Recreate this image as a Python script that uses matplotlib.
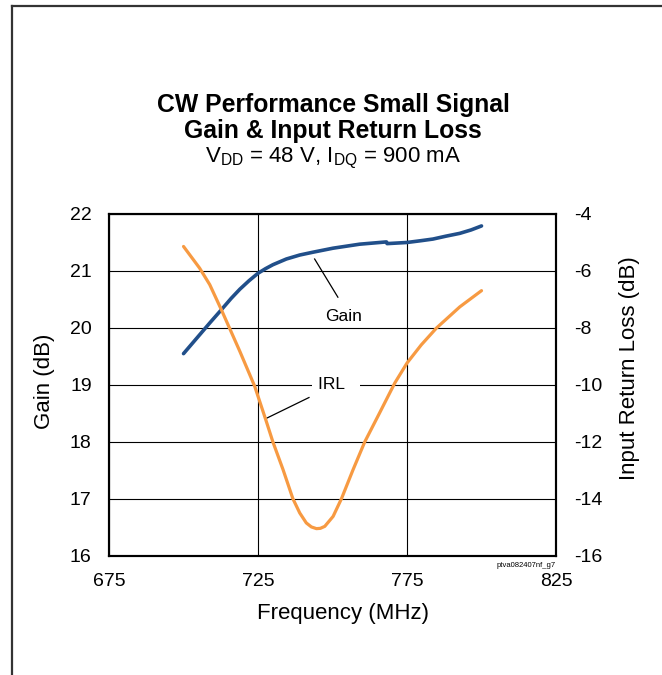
import matplotlib
matplotlib.use("Agg")
import matplotlib.pyplot as plt
from matplotlib.lines import Line2D

plt.rcParams['font.family'] = ['Liberation Sans', 'DejaVu Sans']
plt.rcParams['mathtext.fontset'] = 'custom'
plt.rcParams['mathtext.rm'] = 'Liberation Sans'
plt.rcParams['mathtext.it'] = 'Liberation Sans:italic'
plt.rcParams['mathtext.bf'] = 'Liberation Sans:bold'
plt.rcParams['axes.unicode_minus'] = False

# ---- data ----
gain_freq = [700, 705.4, 709, 712.7, 716, 718.9, 722, 725, 727.5, 730, 734.5, 739, 743.5,
             750.2, 759.1, 768.1, 768.3, 775, 779.5, 783.7, 788, 792.7, 796.5, 800]
gain_db = [19.55, 19.88, 20.10, 20.32, 20.52, 20.68, 20.83, 20.96, 21.04, 21.11, 21.21, 21.28, 21.33,
           21.40, 21.47, 21.51, 21.48, 21.50, 21.53, 21.56, 21.61, 21.66, 21.72, 21.79]

irl_freq = [700, 705.4, 708.8, 712.7, 718.9, 723.9, 727.6, 730, 733.4, 736.7, 739, 741.2,
            742.9, 744.6, 745.9, 747.4, 750.2, 753, 756.9, 760.8, 765.8, 770.9, 775,
            779.8, 784.9, 792.7, 800]
irl_db = [-5.14, -5.90, -6.48, -7.36, -8.82, -10.05, -11.22, -12.0, -12.97, -13.99, -14.49, -14.84,
          -14.98, -15.04, -15.03, -14.96, -14.61, -13.99, -12.97, -12.0, -10.98, -9.93, -9.23,
          -8.59, -8.0, -7.26, -6.69]

x_ticks = [675, 725, 775, 825]
gain_ticks = [16, 17, 18, 19, 20, 21, 22]
irl_ticks = [-16, -14, -12, -10, -8, -6, -4]

title_lines = ["CW Performance Small Signal", "Gain & Input Return Loss"]
subtitle = r"V$_{\mathrm{DD}}$ = 48 V, I$_{\mathrm{DQ}}$ = 900 mA"

# annotation anchors (gain-axis data units)
gain_label_pos = (753.7, 20.2)
gain_leader_x = [744.0, 751.8]
gain_leader_y = [21.21, 20.54]
irl_label_pos = (745.1, 19.0)
irl_leader_x = [742.1, 727.6]
irl_leader_y = [18.78, 18.41]

gain_color = '#214F8A'
irl_color = '#F79A42'

fig = plt.figure(figsize=(6.62, 6.75), dpi=100)
ax = fig.add_axes([0.1647, 0.1763, 0.6752, 0.5067])
ax2 = ax.twinx()

ax.plot(gain_freq, gain_db, color=gain_color, lw=2.6, solid_capstyle='round',
        solid_joinstyle='round', zorder=4)
ax2.plot(irl_freq, irl_db, color=irl_color, lw=2.3, solid_capstyle='round',
         solid_joinstyle='round', zorder=4)

ax.set_xlim(675, 825)
ax.set_ylim(16, 22)
ax2.set_ylim(-16, -4)
ax.set_xticks(x_ticks)
ax.set_yticks(gain_ticks)
ax2.set_yticks(irl_ticks)

ax.grid(True, color='black', lw=0.8)
for a in (ax, ax2):
    for s in a.spines.values():
        s.set_color('black')
        s.set_linewidth(1.5)
ax.tick_params(axis='both', length=0, labelsize=14, pad=12.5)
ax2.tick_params(axis='y', length=0, labelsize=14, pad=13)

ax.set_xlabel("Frequency (MHz)", fontsize=16)
ax.xaxis.set_label_coords(0.523, -0.137)
ax.set_ylabel("Gain (dB)", fontsize=16)
ax.yaxis.set_label_coords(-0.1215, 0.51)
ax2.set_ylabel("Input Return Loss (dB)", fontsize=16, rotation=90)
ax2.yaxis.set_label_coords(1.142, 0.548)

# annotations
ax.plot(gain_leader_x, gain_leader_y, color='black', lw=0.9, zorder=3)
ax.text(*gain_label_pos, "Gain", fontsize=12.5, ha='center', va='center', zorder=3)
ax.plot(irl_leader_x, irl_leader_y, color='black', lw=0.9, zorder=3)
ax.text(*irl_label_pos, "IRL  ", fontsize=12.5, ha='left', va='center', zorder=3,
        bbox=dict(boxstyle='square,pad=0.35', fc='white', ec='none'))

ax.text(1.0, -0.018, "ptva082407nf_g7", transform=ax.transAxes, fontsize=5.5,
        ha='right', va='top')

# titles
fig.text(0.5035, 1 - 105 / 675, title_lines[0], fontsize=17.8, fontweight='bold', ha='center', va='center')
fig.text(0.5035, 1 - 131 / 675, title_lines[1], fontsize=17.8, fontweight='bold', ha='center', va='center')
fig.text(0.5035, 1 - 158 / 675, subtitle, fontsize=16, ha='center', va='center')

# outer frame (top and left edges)
fig.add_artist(Line2D([12 / 662, 12 / 662], [0, 1 - 6 / 675], transform=fig.transFigure,
                      color='#333333', lw=1.6))
fig.add_artist(Line2D([12 / 662, 1], [1 - 6 / 675, 1 - 6 / 675], transform=fig.transFigure,
                      color='#333333', lw=1.6))

fig.savefig("out.png", dpi=100)
